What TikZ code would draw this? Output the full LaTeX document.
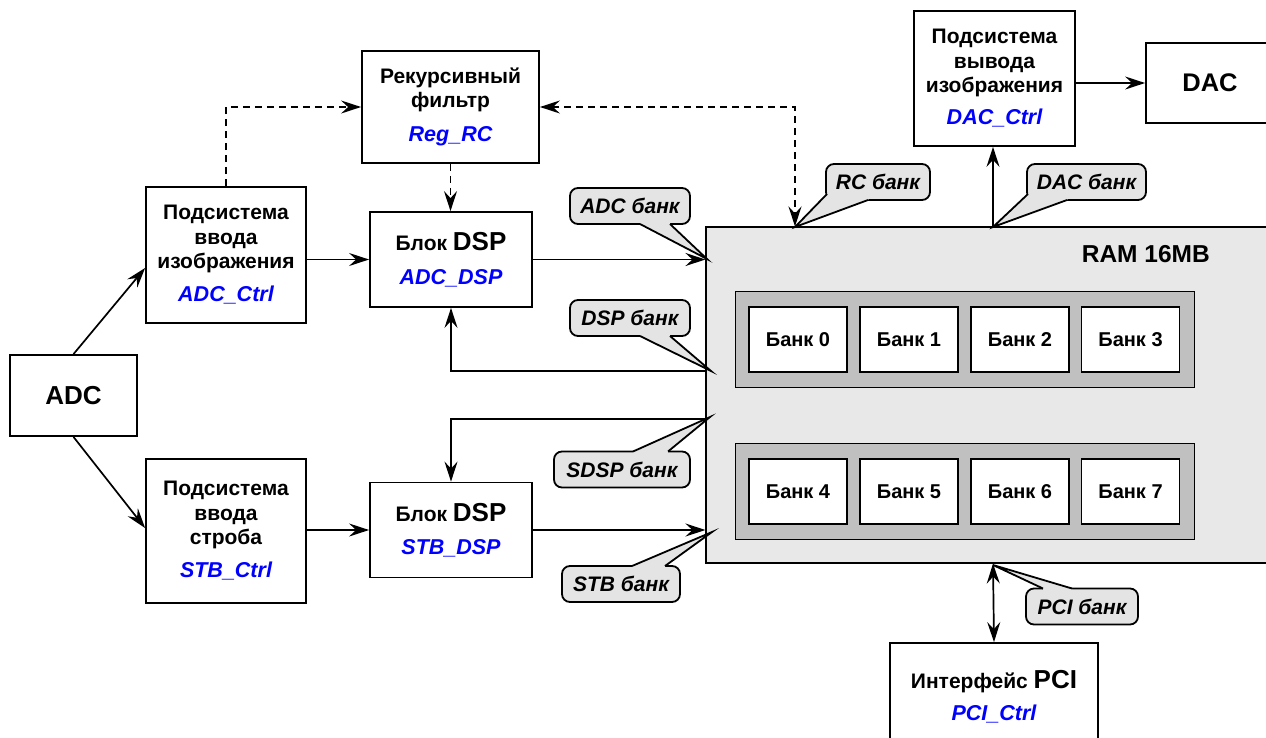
\documentclass[tikz,border=0pt]{standalone}
\usepackage{fontspec}
\setmainfont{Liberation Sans}
\usetikzlibrary{arrows.meta,calc}
\definecolor{ramfill}{HTML}{E8E8E8}
\definecolor{grpfill}{HTML}{C0C0C0}
\definecolor{bubfill}{HTML}{E4E4E4}
\newcommand\bl[1]{{\color{blue}\itshape\fontsize{21.5}{24}\selectfont #1}}
\newcommand\bigtxt[1]{{\fontsize{26}{26}\selectfont #1}}
\newcommand\mybubble[8]{%
  \node[bubble,minimum width=#3] (#1) at (#2) {#4};
  \fill[bubfill] ($(#5)+(#8)$) -- (#5) -- (#7) -- (#6) -- ($(#6)+(#8)$) -- cycle;
  \draw[bubline] (#5) -- (#7) -- (#6);
}
\begin{document}
\begin{tikzpicture}[x=1pt,y=-1pt,
  box/.style={draw,line width=1.8pt,fill=white,align=center,inner sep=0pt,
    font=\bfseries\fontsize{21}{24.5}\selectfont},
  tip/.tip={Stealth[length=20pt,width=13pt,inset=7pt]},
  arr/.style={line width=1.7pt,-tip},
  darr/.style={line width=1.7pt,tip-tip},
  dsh/.style={dash pattern=on 7pt off 5pt},
  bank/.style={draw,line width=1.4pt,fill=white,minimum width=98pt,minimum height=65pt,inner sep=0pt,
    font=\bfseries\fontsize{20}{24}\selectfont},
  grp/.style={draw,line width=1pt,fill=grpfill,minimum width=459pt,minimum height=96pt,inner sep=0pt},
  bubble/.style={draw,line width=1.8pt,fill=bubfill,rounded corners=8pt,minimum height=36pt,inner sep=0pt,
    font=\bfseries\itshape\fontsize{21}{22}\selectfont},
  bubline/.style={line width=1.8pt,line join=miter},
]
\useasboundingbox (0,0) rectangle (1266,737);
\clip (0,0) rectangle (1266,737);

% RAM
\node[draw,line width=1.1pt,fill=ramfill,minimum width=574pt,minimum height=336pt,inner sep=0pt] (ram) at (993,395) {};
\node[anchor=base east,inner sep=0pt,font=\bfseries\fontsize{24.5}{24}\selectfont] (ramlabel) at (1210,262) {RAM 16MB};
\node[grp] (g1) at (964.5,339) {};
\node[grp] (g2) at (964.5,491) {};
\node[bank] (b0) at (798,339.5) {Банк 0};
\node[bank] (b1) at (909,339.5) {Банк 1};
\node[bank] (b2) at (1020,339.5) {Банк 2};
\node[bank] (b3) at (1130.5,339.5) {Банк 3};
\node[bank] (b4) at (798,491.5) {Банк 4};
\node[bank] (b5) at (909,491.5) {Банк 5};
\node[bank] (b6) at (1020,491.5) {Банк 6};
\node[bank] (b7) at (1130.5,491.5) {Банк 7};

% blocks
\node[box,minimum width=127pt,minimum height=81pt,font=\bfseries\fontsize{26}{26}\selectfont] (adc) at (73.5,395.5) {ADC};
\node[box,minimum width=160pt,minimum height=136pt] (adcctrl) at (226,255) {Подсистема\\ввода\\изображения\\[8.5pt]\bl{ADC\_Ctrl}};
\node[box,minimum width=177pt,minimum height=112pt] (regrc) at (450.5,107) {Рекурсивный\\фильтр\\[9.5pt]\bl{Reg\_RC}};
\node[box,minimum width=162pt,minimum height=95pt] (adcdsp) at (451,259.5) {Блок \bigtxt{DSP}\\[9pt]\bl{ADC\_DSP}};
\node[box,minimum width=160pt,minimum height=144pt] (stbctrl) at (226,531) {Подсистема\\ввода\\строба\\[8.5pt]\bl{STB\_Ctrl}};
\node[box,minimum width=162pt,minimum height=95pt] (stbdsp) at (451,530) {Блок \bigtxt{DSP}\\[9pt]\bl{STB\_DSP}};
\node[box,minimum width=161pt,minimum height=135pt] (dacctrl) at (994.5,78.5) {Подсистема\\вывода\\изображения\\[7.5pt]\bl{DAC\_Ctrl}};
\node[box,minimum width=128pt,minimum height=80pt,font=\bfseries\fontsize{25.5}{26}\selectfont] (dac) at (1210,83) {DAC};
\node[box,minimum width=208pt,minimum height=107pt] (pci) at (994,696.5) {Интерфейс \bigtxt{PCI}\\[7pt]\bl{PCI\_Ctrl}};

% connectors
\draw[arr] (adc.north) -- ([yshift=-13pt]adcctrl.west);
\draw[arr] (adc.south) -- ([yshift=3pt]stbctrl.west);
\draw[arr] (adcctrl.east |- adcdsp.west) -- (adcdsp.west);
\draw[arr] (stbctrl.east |- stbdsp.west) -- (stbdsp.west);
\draw[arr] (adcdsp.east) -- (adcdsp.east -| ram.west);
\draw[arr] (stbdsp.east) -- (stbdsp.east -| ram.west);
\draw[arr] ([yshift=24pt]ram.west) -| (adcdsp.south);
\draw[arr] ([yshift=-24pt]ram.west) -| (stbdsp.north);
\draw[arr,dsh] (adcctrl.north) |- (regrc.west);
\draw[arr,dsh] (regrc.south) -- (regrc.south |- adcdsp.north);
\draw[darr,dsh] (regrc.east) -| ([xshift=-198pt]ram.north);
\draw[arr] (ram.north) -- (ram.north |- dacctrl.south);
\draw[arr] (dacctrl.east |- dac.west) -- (dac.west);
\draw[darr] (ram.south) -- (pci.north);

% callouts
\coordinate (tadc) at (707,259);
\coordinate (tdsp) at (711,371);
\coordinate (tsdsp) at (710,417);
\coordinate (tstb) at (712,532);
\coordinate (trc) at (795,227);
\coordinate (tdac) at (993,227);
\coordinate (tpci) at (993,565);
\mybubble{cadc}{630,206}{120pt}{ADC банк}{640,224}{670,224}{tadc}{0,-3}
\mybubble{cdsp}{630,318}{120pt}{DSP банк}{640,336}{670,336}{tdsp}{0,-3}
\mybubble{csdsp}{622,469.5}{136pt}{SDSP банк}{633,451.5}{668,451.5}{tsdsp}{0,3}
\mybubble{cstb}{621,584}{118pt}{STB банк}{632,566}{665,566}{tstb}{0,3}
\mybubble{crc}{878,182}{104pt}{RC банк}{827,194}{868,200}{trc}{2,-3}
\mybubble{cdac}{1086.5,182}{119pt}{DAC банк}{1028,194}{1067,200}{tdac}{2,-3}
\mybubble{cpci}{1082,606.5}{112pt}{PCI банк}{1043,588.5}{1072,588.5}{tpci}{0,3}
\end{tikzpicture}
\end{document}
